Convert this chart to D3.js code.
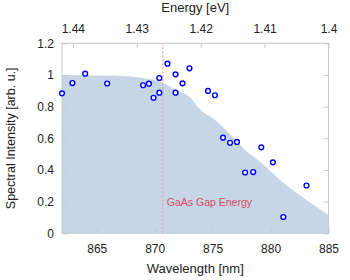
<!DOCTYPE html>
<html>
<head>
<meta charset="utf-8">
<script src="https://cdn.jsdelivr.net/npm/d3@7"></script>
<style>
  body{margin:0;background:#fff;}
  svg{font-family:"Liberation Sans",Arial,sans-serif;}
</style>
</head>
<body>
<script>
// measured points (wavelength nm, intensity)
const wavelength=[862.0,862.9,864.0,865.9,869.0,869.5,869.9,870.4,870.4,871.1,871.8,871.8,872.4,873.0,874.6,875.2,875.9,876.5,877.1,877.8,878.5,879.2,880.2,881.1,883.1]
const intensity=[0.884,0.949,1.008,0.946,0.935,0.945,0.856,0.981,0.888,1.071,1.004,0.888,0.947,1.042,0.899,0.872,0.604,0.572,0.577,0.384,0.387,0.543,0.448,0.103,0.302]

// shaded spectrum
const specWl=[862,865.3,867.9,869.2,870.0,870.5,871.8,873.1,873.9,875.2,877.0,877.8,879.3,881.0,883.0,885]
const specVal=[1.0,0.997,0.99,0.978,0.968,0.956,0.908,0.855,0.783,0.716,0.589,0.526,0.44,0.325,0.215,0.116]

const xTicks=[865,870,875,880,885]
const yTicks=[0,0.2,0.4,0.6,0.8,1,1.2]
const eTicks=[1.44,1.43,1.42,1.41,1.4]
const gapWl=870.7

const w=350, h=280
const pLeft=62, pRight=328.5, pTop=43.3, pBottom=233.3

const svg=d3.select("body").append("svg").attr("width",w).attr("height",h)

const x=d3.scaleLinear().domain([862,885]).range([pLeft,pRight])
const xE=d3.scaleLinear().domain([1.4417,1.4]).range([pLeft,pRight])
const y=d3.scaleLinear().domain([0,1.2]).range([pBottom,pTop])

//area
const spec=specWl.map((d,i)=>[d,specVal[i]])
svg.append("path")
  .datum(spec)
  .attr("fill","#c6d6e7")
  .attr("d",d3.area().x(d=>x(d[0])).y0(y(0)).y1(d=>y(d[1])).curve(d3.curveMonotoneX))

// gap line
svg.append("line")
  .attr("x1",x(gapWl)).attr("x2",x(gapWl))
  .attr("y1",pTop).attr("y2",pBottom)
  .attr("stroke","#ec8c98").attr("stroke-width",1).attr("stroke-dasharray","2,2")
svg.append("text")
  .attr("x",x(gapWl)+4).attr("y",206)
  .attr("fill","#d64a5e").attr("font-size",10.5)
  .text("GaAs Gap Energy")

//axes
const fmt=d=>String(+d.toFixed(2))
const ax=[
  [d3.axisBottom(x).tickValues(xTicks).tickSize(-5).tickPadding(11).tickFormat(fmt),"translate(0,"+pBottom+")"],
  [d3.axisTop(xE).tickValues(eTicks).tickSize(-5).tickPadding(10).tickFormat(fmt),"translate(0,"+pTop+")"],
  [d3.axisLeft(y).tickValues(yTicks).tickSize(-5).tickPadding(8).tickFormat(fmt),"translate("+pLeft+",0)"],
  [d3.axisRight(y).tickValues(yTicks).tickSize(-5).tickFormat(""),"translate("+pRight+",0)"]
]
ax.forEach(a=>{
  const g=svg.append("g").attr("transform",a[1]).call(a[0])
  g.select(".domain").remove()
  g.selectAll("line").attr("stroke","#c8c8c8")
  g.selectAll("text").attr("font-size",12).attr("fill","#222").attr("font-family","Liberation Sans,Arial,sans-serif")
})

svg.append("rect")
  .attr("x",pLeft).attr("y",pTop).attr("width",pRight-pLeft).attr("height",pBottom-pTop)
  .attr("fill","none").attr("stroke","#c8c8c8").attr("stroke-width",1)

//points
svg.selectAll("circle")
  .data(wavelength)
  .enter()
  .append("circle")
  .attr("cx",d=>x(d))
  .attr("cy",(d,i)=>y(intensity[i]))
  .attr("r",2.4)
  .attr("fill","#fff")
  .attr("stroke","#0000ff")
  .attr("stroke-width",1.4)

//titles
svg.append("text").attr("x",(pLeft+pRight)/2).attr("y",273).attr("text-anchor","middle")
  .attr("font-size",13).attr("fill","#222").text("Wavelength [nm]")
svg.append("text").attr("x",(pLeft+pRight)/2).attr("y",12).attr("text-anchor","middle")
  .attr("font-size",13).attr("fill","#222").text("Energy [eV]")
svg.append("text").attr("transform","translate(15,"+((pTop+pBottom)/2)+") rotate(-90)")
  .attr("text-anchor","middle").attr("font-size",12.5).attr("fill","#222")
  .text("Spectral Intensity [arb. u.]")
</script>
</body>
</html>
